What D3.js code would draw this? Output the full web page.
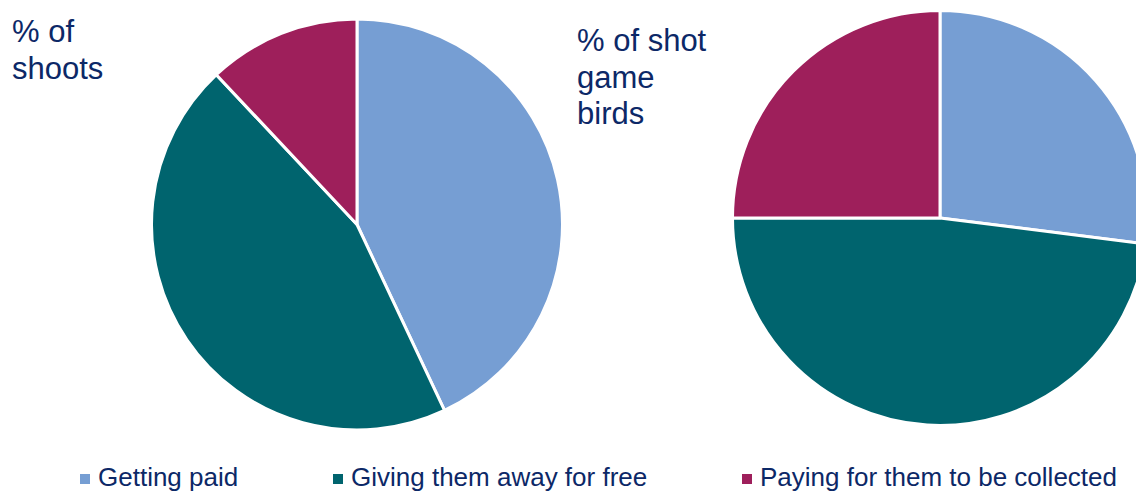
<!DOCTYPE html>
<html>
<head>
<meta charset="utf-8">
<script src="https://cdn.jsdelivr.net/npm/d3@7"></script>
<style>
  body { margin: 0; background: #fff; }
  text { font-family: "Liberation Sans", Arial, sans-serif; fill: #0c2867; }
</style>
</head>
<body>
<div id="chart-container"></div>
<script>
const w = 1136;
const h = 493;

const categories = ["Getting paid", "Giving them away for free", "Paying for them to be collected"];
const colors = ["#769ed3", "#00646e", "#9e1f5b"];
const shoots = [43, 45, 12];
const birds = [27, 48, 25];
const titles = [["% of", "shoots"], ["% of shot", "game", "birds"]];

const svg = d3.select("#chart-container")
  .append("svg")
  .attr("width", w)
  .attr("height", h);

const color = d3.scaleOrdinal().domain(categories).range(colors);

const pie = d3.pie().sort(null).value(d => d.v);

const charts = [
  { vals: shoots, cx: 357, cy: 224.5, r: 205.5, title: titles[0], tx: 12, ty: 42 },
  { vals: birds, cx: 940, cy: 218, r: 207.5, title: titles[1], tx: 577, ty: 51 }
];

charts.forEach((c) => {
  const data = c.vals.map((v, i) => ({ cat: categories[i], v: v }));
  const arc = d3.arc().innerRadius(0).outerRadius(c.r);
  const g = svg.append("g").attr("transform", `translate(${c.cx},${c.cy})`);
  g.selectAll("path")
    .data(pie(data))
    .join("path")
    .attr("d", arc)
    .style("fill", d => color(d.data.cat))
    .style("stroke", "#fff")
    .style("stroke-width", 3)
    .style("stroke-linejoin", "round");

  svg.append("text")
    .attr("x", c.tx)
    .attr("y", c.ty)
    .style("font-size", "31px")
    .selectAll("tspan")
    .data(c.title)
    .join("tspan")
    .attr("x", c.tx)
    .attr("dy", (d, i) => i === 0 ? 0 : 36.5)
    .text(d => d);
});

// legend (kept just inside the bottom edge)
const legendX = [80, 333, 742];
const legend = svg.selectAll(".leg")
  .data(categories)
  .join("g")
  .attr("class", "leg")
  .attr("transform", (d, i) => `translate(${legendX[i]},0)`);

legend.append("rect")
  .attr("x", 0)
  .attr("y", 474)
  .attr("width", 10)
  .attr("height", 10)
  .style("fill", d => color(d));

legend.append("text")
  .attr("x", 18)
  .attr("y", 486)
  .style("font-size", "26px")
  .text(d => d);
</script>
</body>
</html>
